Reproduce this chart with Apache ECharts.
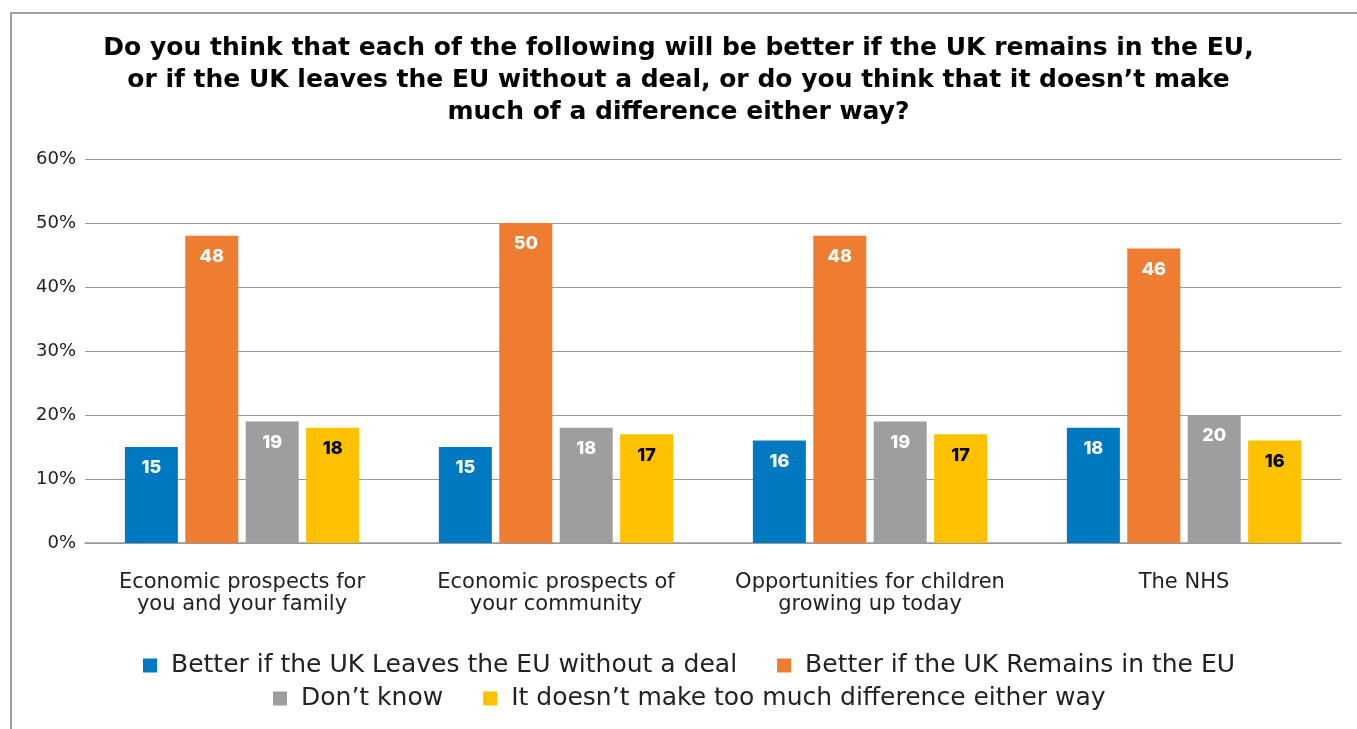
<!DOCTYPE html>
<html><head><meta charset="utf-8">
<script src="https://cdn.jsdelivr.net/npm/echarts@6/dist/echarts.min.js"></script>
<style>html,body{margin:0;padding:0;background:#fff}#c{width:1357px;height:729px}</style>
</head><body><div id="c"></div>
<script>
const titleText = "Do you think that each of the following will be better if the UK remains in the EU,\nor if the UK leaves the EU without a deal, or do you think that it doesn’t make\nmuch of a difference either way?";
const categories = ["Economic prospects for\nyou and your family", "Economic prospects of\nyour community", "Opportunities for children\ngrowing up today", "The NHS"];
const seriesNames = ["Better if the UK Leaves the EU without a deal", "Better if the UK Remains in the EU", "Don’t know", "It doesn’t make too much difference either way"];
const leaveNoDeal = [15, 15, 16, 18];
const remain = [48, 50, 48, 46];
const dontKnow = [19, 18, 19, 20];
const noDifference = [18, 17, 17, 16];
const colors = ["#0079C1", "#EE7D31", "#9E9E9E", "#FDC100"];
const labelColors = ["#fff", "#fff", "#fff", "#000"];
const yTicks = [0, 10, 20, 30, 40, 50, 60];

const chart = echarts.init(document.getElementById('c'), null, {renderer: 'canvas'});
const font = 'DejaVu Sans';
const allData = [leaveNoDeal, remain, dontKnow, noDifference];
const legendBase = {
  itemGap: 40, itemWidth: 14, itemHeight: 14, icon: 'rect',
  textStyle: {fontFamily: font, fontSize: 25, color: '#222', padding: [0, 0, 0, 9]}
};
chart.setOption({
  animation: false,
  graphic: [{type: 'rect', shape: {x: 11, y: 13, width: 1400, height: 800}, style: {fill: 'none', stroke: '#a0a0a0', lineWidth: 2}, z: -1}],
  title: {text: titleText, left: 'center', top: 27, textStyle: {fontFamily: 'DejaVu Sans', fontWeight: 'bold', fontSize: 25, lineHeight: 32, color: '#000'}},
  grid: {left: 85, right: 16, top: 159, bottom: 186, containLabel: false},
  legend: [
    Object.assign({}, legendBase, {data: seriesNames.slice(0, 2), top: 648, left: 138}),
    Object.assign({}, legendBase, {data: seriesNames.slice(2, 4), top: 681, left: 268})
  ],
  xAxis: {
    type: 'category', data: categories,
    axisLine: {lineStyle: {color: '#999', width: 1.5}}, axisTick: {show: false},
    axisLabel: {fontFamily: font, fontSize: 21, color: '#222', lineHeight: 22, margin: 29, interval: 0}
  },
  yAxis: {
    type: 'value', min: 0, max: 60, interval: 10,
    axisLine: {show: false}, axisTick: {show: false},
    splitLine: {lineStyle: {color: '#999', width: 1}},
    axisLabel: {fontFamily: font, fontSize: 18, color: '#222', margin: 9, formatter: v => yTicks.includes(v) ? v + '%' : ''}
  },
  series: seriesNames.map((n, i) => ({
    name: n, type: 'bar', data: allData[i], barWidth: 53, barGap: '14%',
    itemStyle: {color: colors[i]},
    label: {show: true, position: 'insideTop', distance: 12, fontFamily: 'Inter', fontWeight: 800, fontSize: 18, color: labelColors[i]}
  }))
});
</script></body></html>
